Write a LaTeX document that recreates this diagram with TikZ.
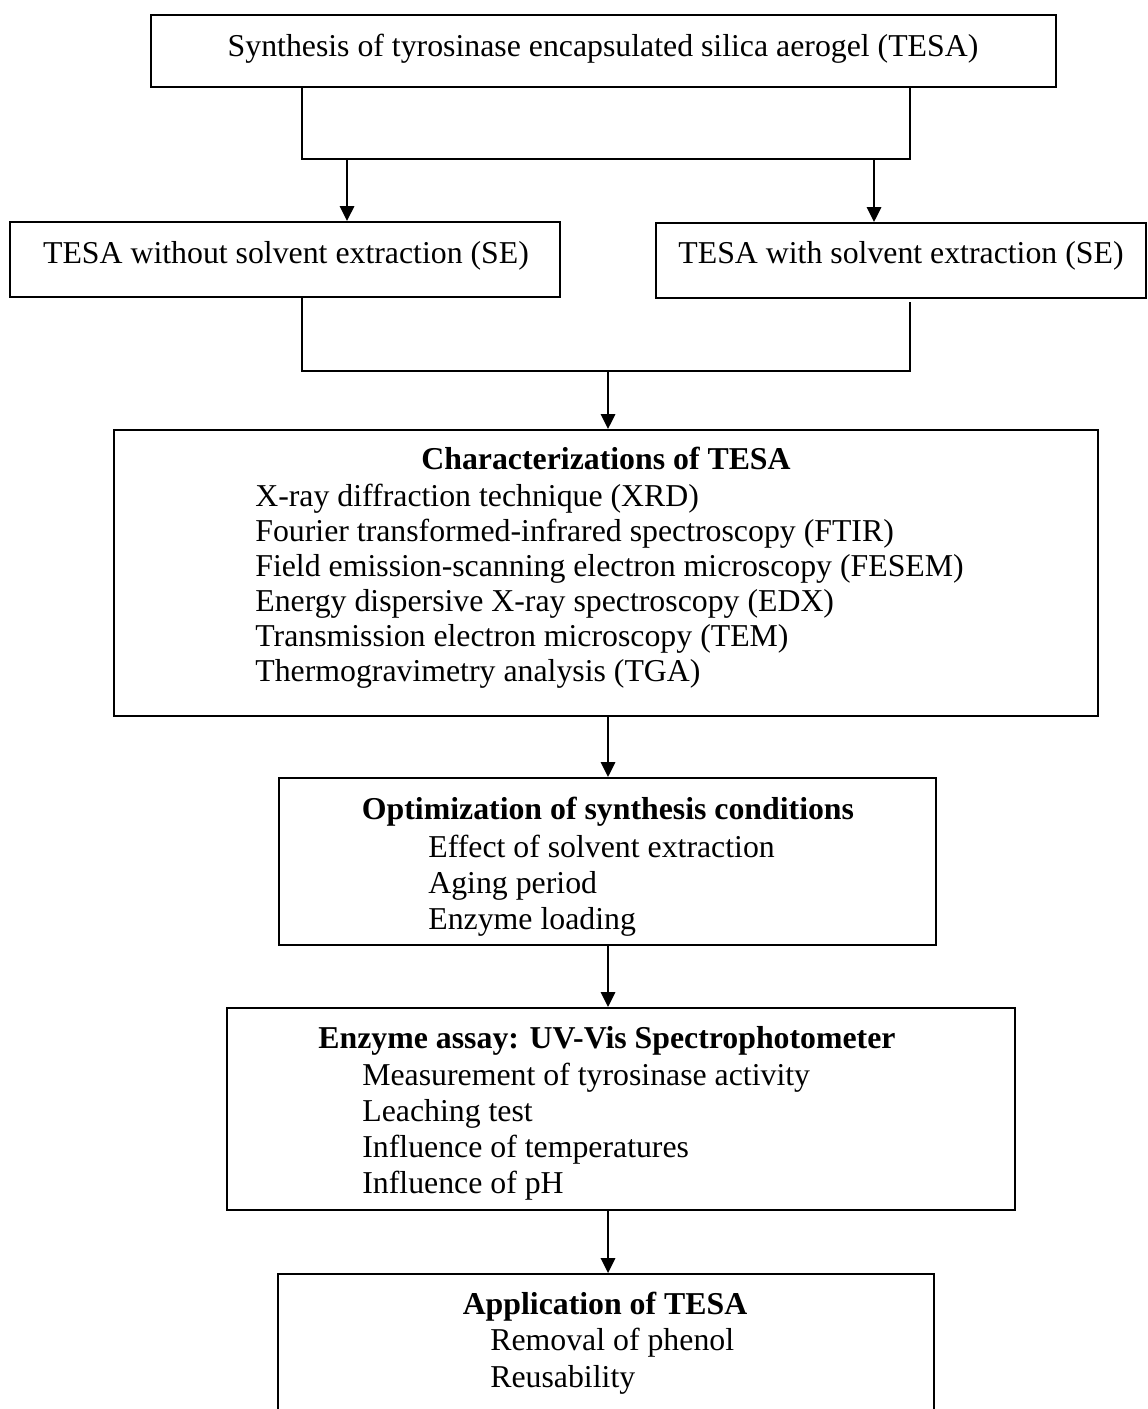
\documentclass[tikz,border=0pt]{standalone}
\usepackage{fontspec}
\setmainfont{Liberation Serif}
\usetikzlibrary{positioning, arrows.meta, fit}

\begin{document}
\begin{tikzpicture}[
    x=0.02cm, y=-0.02cm,
    every node/.style={font=\fontsize{18.1}{20.4}\selectfont},
    box/.style={draw=black, line width=1pt, inner sep=0pt},
    label/.style={anchor=base, inner sep=0pt},
    title/.style={anchor=base, inner sep=0pt, font=\fontsize{18.1}{20.4}\selectfont\bfseries},
    item/.style={anchor=base west, inner sep=0pt},
    link/.style={line width=0.75pt},
    arrow/.style={-{Triangle[width=8pt, length=8.5pt]}, line width=1.5pt}
]
    \useasboundingbox (0,0) rectangle (1147,1409);

    % Synthesis and the two routes
    \node[box, fit={(151,15) (1056,87)}] (synth) {};
    \node[label] (synthtxt) at (603,57) {Synthesis of tyrosinase encapsulated silica aerogel (TESA)};
    \node[box, fit={(10,222) (560,297)}] (nose) {};
    \node[label] (nosetxt) at (286,263) {TESA without solvent extraction (SE)};
    \node[box, fit={(656,223) (1146,298)}] (withse) {};
    \node[label] (withsetxt) at (901,263) {TESA with solvent extraction (SE)};

    % Characterizations
    \node[box, fit={(114,430) (1098,716)}] (charac) {};
    \node[title] (charactitle) at (606,469) {Characterizations of TESA};
    \foreach \txt [count=\i] in {X-ray diffraction technique (XRD),
        Fourier transformed-infrared spectroscopy (FTIR),
        Field emission-scanning electron microscopy (FESEM),
        Energy dispersive X-ray spectroscopy (EDX),
        Transmission electron microscopy (TEM),
        Thermogravimetry analysis (TGA)}
        \node[item] (charac\i) at (255,471+35*\i) {\txt};

    % Optimization
    \node[box, fit={(279,778) (936,945)}] (optim) {};
    \node[title] (optimtitle) at (608,819) {Optimization of synthesis conditions};
    \foreach \txt [count=\i] in {Effect of solvent extraction, Aging period, Enzyme loading}
        \node[item] (optim\i) at (428,821+36*\i) {\txt};

    % Enzyme assay
    \node[box, fit={(227,1008) (1015,1210)}] (assay) {};
    \node[title] (assaytitle) at (607,1048) {Enzyme assay: UV-Vis Spectrophotometer};
    \foreach \txt [count=\i] in {Measurement of tyrosinase activity, Leaching test,
        Influence of temperatures, Influence of pH}
        \node[item] (assay\i) at (362,1049+36*\i) {\txt};

    % Application
    \node[box, fit={(278,1274) (934,1440)}] (appl) {};
    \node[title] (appltitle) at (605,1314) {Application of TESA};
    \foreach \txt [count=\i] in {Removal of phenol, Reusability}
        \node[item] (appl\i) at (490,1313+37*\i) {\txt};

    % Connectors
    \coordinate (splitL) at (302,159);
    \coordinate (splitR) at (910,159);
    \draw[link] (synth.south -| splitL) -- (splitL) -- (splitR) -- (synth.south -| splitR);
    \coordinate (toL) at (347,159);
    \coordinate (toR) at (874,159);
    \draw[arrow] (toL) -- (toL |- nose.north);
    \draw[arrow] (toR) -- (toR |- withse.north);

    \coordinate (mergeL) at (302,371);
    \coordinate (mergeR) at (910,371);
    \coordinate (mergeRtop) at (910,302);
    \coordinate (mergeC) at (608,371);
    \draw[link] (nose.south -| mergeL) -- (mergeL) -- (mergeR) -- (mergeRtop);
    \draw[arrow] (mergeC) -- (mergeC |- charac.north);
    \draw[arrow] (charac.south -| mergeC) -- (mergeC |- optim.north);
    \draw[arrow] (optim.south -| mergeC) -- (mergeC |- assay.north);
    \draw[arrow] (assay.south -| mergeC) -- (mergeC |- appl.north);

\end{tikzpicture}
\end{document}
